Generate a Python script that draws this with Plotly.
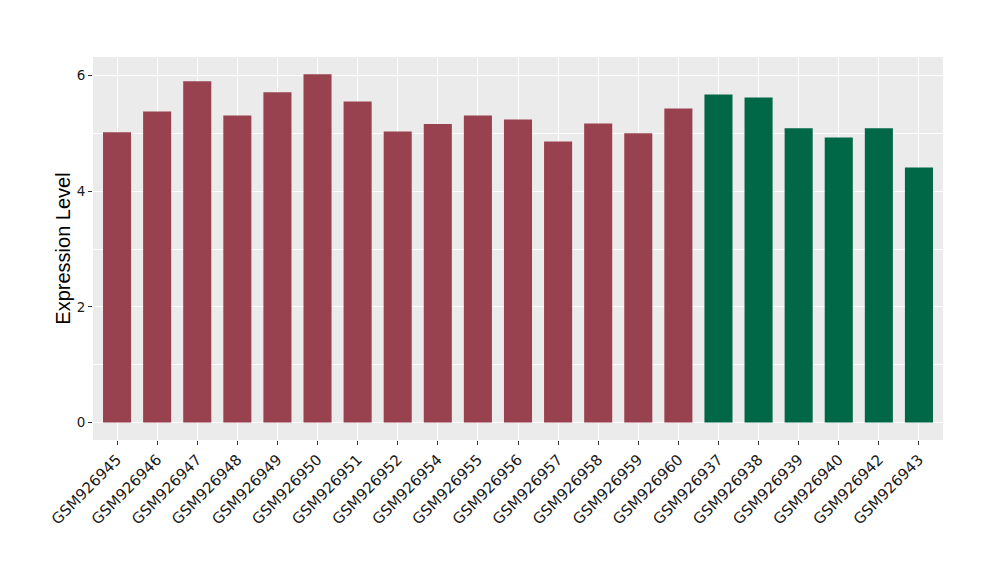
import plotly.graph_objects as go

samples = ["GSM926945", "GSM926946", "GSM926947", "GSM926948", "GSM926949", "GSM926950",
           "GSM926951", "GSM926952", "GSM926954", "GSM926955", "GSM926956", "GSM926957",
           "GSM926958", "GSM926959", "GSM926960", "GSM926937", "GSM926938", "GSM926939",
           "GSM926940", "GSM926942", "GSM926943"]
values = [5.02, 5.38, 5.90, 5.31, 5.71, 6.02, 5.55, 5.03, 5.16, 5.31, 5.24, 4.86,
          5.17, 5.00, 5.43, 5.67, 5.62, 5.09, 4.93, 5.09, 4.41]
groups = ["A"] * 15 + ["B"] * 6
group_colors = {"A": "#99424F", "B": "#006846"}

colors = [group_colors[g] for g in groups]

fig = go.Figure(go.Bar(x=samples, y=values, marker=dict(color=colors, line=dict(width=0)),
                       width=0.7, showlegend=False))

fig.update_layout(
    width=1000, height=580,
    margin=dict(l=85, r=65, t=49, b=148),
    paper_bgcolor="white", plot_bgcolor="#EBEBEB",
    font=dict(family="Liberation Sans, Arial, sans-serif", color="#1A1A1A"),
)
fig.update_xaxes(
    range=[-0.6, 20.6], tickangle=-45, ticks="outside", ticklen=4, tickcolor="#333333",
    tickfont=dict(family="DejaVu Sans", size=15, color="#1A1A1A"),
    showgrid=True, gridcolor="white", gridwidth=1.2,
    zeroline=False, showline=False, automargin=False,
)
fig.update_yaxes(
    range=[-0.301, 6.32], tickvals=[0, 2, 4, 6], ticks="outside", ticklen=4, tickcolor="#333333",
    tickfont=dict(family="DejaVu Sans", size=13.5, color="#1A1A1A"),
    showgrid=True, gridcolor="white", gridwidth=1.2,
    minor=dict(tickvals=[1, 3, 5], showgrid=True, gridcolor="white", gridwidth=0.6, ticks=""),
    zeroline=False, showline=False, automargin=False,
    title=dict(text="Expression Level", font=dict(size=20, color="black"), standoff=0),
)

fig.write_html("out.html")
